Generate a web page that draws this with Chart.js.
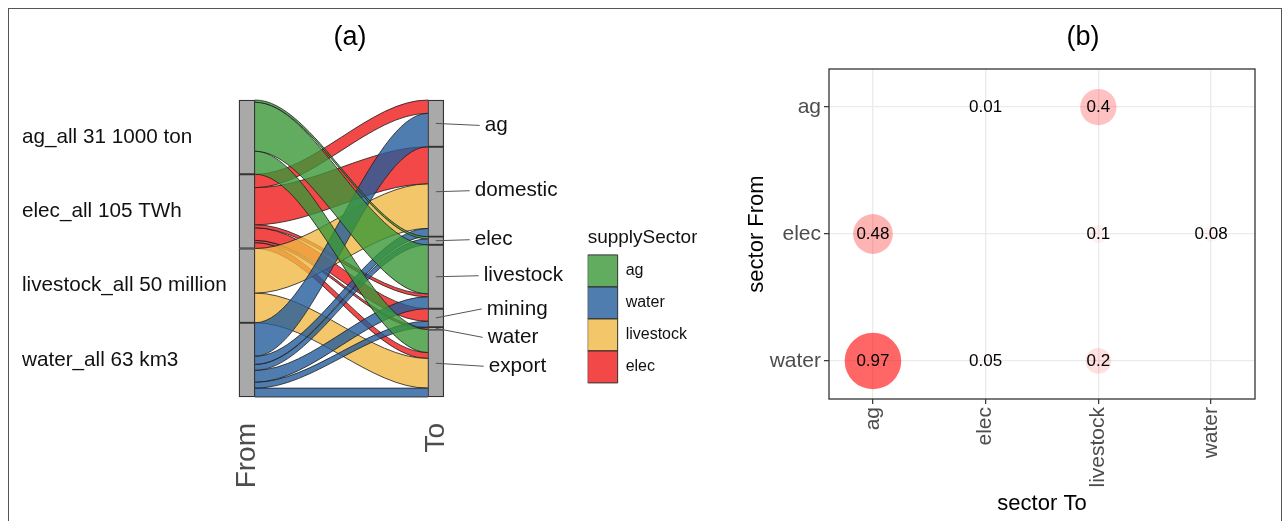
<!DOCTYPE html>
<html><head><meta charset="utf-8">
<script src="https://cdn.jsdelivr.net/npm/chart.js@4/dist/chart.umd.min.js"></script>
<style>
html,body{margin:0;padding:0;background:#fff;overflow:hidden;width:1287px;height:521px;}
#frame{position:absolute;left:8px;top:8px;width:1274px;height:600px;border:1.5px solid #555;box-sizing:border-box;}
#alluvial{position:absolute;left:0;top:0;}
#bubble{position:absolute;left:740px;top:0;}
</style></head><body>
<div id="frame"></div>
<canvas id="alluvial" width="740" height="521"></canvas>
<canvas id="bubble" width="547" height="521"></canvas>
<script>
// ---------- panel (a): alluvial data (shares of each supply sector) ----------
const fromSectors = ['ag', 'elec', 'livestock', 'water'];
const fromLabels = ['ag_all 31 1000 ton', 'elec_all 105 TWh', 'livestock_all 50 million', 'water_all 63 km3'];
const toSectors = ['ag', 'domestic', 'elec', 'livestock', 'mining', 'water', 'export'];
const axisNames = ['From', 'To'];
const flowFrom = ['ag', 'ag', 'ag',
  'elec', 'elec', 'elec', 'elec', 'elec', 'elec',
  'livestock', 'livestock',
  'water', 'water', 'water', 'water', 'water', 'water'];
const flowTo = ['elec', 'livestock', 'export',
  'ag', 'domestic', 'livestock', 'mining', 'water', 'export',
  'domestic', 'export',
  'ag', 'domestic', 'elec', 'livestock', 'mining', 'export'];
const flowValue = [0.03, 0.66, 0.31,
  0.18, 0.50, 0.04, 0.17, 0.03, 0.08,
  0.60, 0.40,
  0.45, 0.11, 0.08, 0.16, 0.08, 0.12];
const legendSectors = ['ag', 'water', 'livestock', 'elec'];

// ---------- panel (b): bubble data ----------
const bubbleCols = ['ag', 'elec', 'livestock', 'water'];
const bubbleRows = ['water', 'elec', 'ag'];
const bubbleFrom = ['ag', 'ag', 'elec', 'elec', 'elec', 'water', 'water', 'water'];
const bubbleTo = ['elec', 'livestock', 'ag', 'livestock', 'water', 'ag', 'elec', 'livestock'];
const bubbleValue = [0.01, 0.4, 0.48, 0.1, 0.08, 0.97, 0.05, 0.2];

// ---------- styles ----------
Chart.defaults.font.family = "'Liberation Sans', Arial, sans-serif";
const sectorColors = {
  ag: 'rgba(59,151,56,0.8)',
  water: 'rgba(36,92,155,0.8)',
  livestock: 'rgba(239,184,68,0.8)',
  elec: 'rgba(239,26,26,0.8)'
};
const flowBorder = 'rgba(30,30,30,0.8)';
const halfW = 1 / 24;      // half stratum width (axis units)
const eps = 0.002;
const toLabelOffsets = [[41, 2], [31, -1], [31, -1], [40, -1], [43, -9], [44, 9], [45, 3]];

// ---------- alluvial geometry from data ----------
const sum = a => a.reduce((s, v) => s + v, 0);
const idx = flowValue.map((_, i) => i);
const supplyTotal = fromSectors.map(s => sum(idx.filter(i => flowFrom[i] === s).map(i => flowValue[i])));
const demandTotal = toSectors.map(t => sum(idx.filter(i => flowTo[i] === t).map(i => flowValue[i])));
const grand = sum(flowValue);
const leftTop = {}, rightTop = {};
let cur = grand;
fromSectors.forEach((s, i) => { leftTop[s] = cur; cur -= supplyTotal[i]; });
cur = grand;
toSectors.forEach((t, i) => { rightTop[t] = cur; cur -= demandTotal[i]; });
const leftPos = {}, rightPos = {};
fromSectors.forEach(s => {
  let c = leftTop[s];
  idx.filter(i => flowFrom[i] === s)
    .sort((a, b) => toSectors.indexOf(flowTo[a]) - toSectors.indexOf(flowTo[b]))
    .forEach(i => { leftPos[i] = [c, c - flowValue[i]]; c -= flowValue[i]; });
});
toSectors.forEach(t => {
  let c = rightTop[t];
  idx.filter(i => flowTo[i] === t)
    .sort((a, b) => fromSectors.indexOf(flowFrom[a]) - fromSectors.indexOf(flowFrom[b]))
    .forEach(i => { rightPos[i] = [c, c - flowValue[i]]; c -= flowValue[i]; });
});

const x0 = 1 + halfW, x1 = 2 - halfW;
const edge = (yl, yr) => [{x: x0, y: yl}, {x: x0 + eps, y: yl}, {x: x1 - eps, y: yr}, {x: x1, y: yr}];
const flowDatasets = [];
legendSectors.forEach(s => {
  idx.filter(i => flowFrom[i] === s).forEach(i => {
    const [lt, lb] = leftPos[i];
    const [rt, rb] = rightPos[i];
    const common = {type: 'line', borderColor: flowBorder, borderWidth: 1, pointRadius: 0,
      cubicInterpolationMode: 'monotone', order: 1};
    flowDatasets.push(Object.assign({}, common, {data: edge(lb, rb), fill: false}));
    flowDatasets.push(Object.assign({}, common, {data: edge(lt, rt), fill: '-1', backgroundColor: sectorColors[s]}));
  });
});
const strataData = [];
fromSectors.forEach((s, i) => strataData.push({x: 1, y: [leftTop[s] - supplyTotal[i], leftTop[s]]}));
toSectors.forEach((t, i) => strataData.push({x: 2, y: [rightTop[t] - demandTotal[i], rightTop[t]]}));
const leftCenters = fromSectors.map((s, i) => leftTop[s] - supplyTotal[i] / 2);

// ---------- plugins ----------
const panelTag = {
  id: 'panelTag',
  afterDraw(chart, args, opts) {
    const ctx = chart.ctx;
    ctx.save();
    ctx.font = "27px 'Liberation Sans', Arial, sans-serif";
    ctx.fillStyle = '#000';
    ctx.textAlign = 'center';
    ctx.textBaseline = 'middle';
    ctx.fillText(opts.text, opts.x, opts.y);
    ctx.restore();
  }
};
const toLabels = {
  id: 'toLabels',
  afterDatasetsDraw(chart) {
    const ctx = chart.ctx, xs = chart.scales.x, ys = chart.scales.y;
    const xMid = xs.getPixelForValue(2), xEdge = xs.getPixelForValue(2 + halfW);
    ctx.save();
    ctx.font = "20.7px 'Liberation Sans', Arial, sans-serif";
    ctx.textAlign = 'left';
    ctx.textBaseline = 'middle';
    toSectors.forEach((t, i) => {
      const cy = ys.getPixelForValue(rightTop[t] - demandTotal[i] / 2);
      const lx = xEdge + toLabelOffsets[i][0], ly = cy + toLabelOffsets[i][1];
      ctx.strokeStyle = '#555';
      ctx.lineWidth = 1;
      ctx.beginPath();
      ctx.moveTo(xMid, cy);
      ctx.lineTo(lx - 5, ly);
      ctx.stroke();
      ctx.fillStyle = '#111';
      ctx.fillText(t, lx, ly);
    });
    ctx.restore();
  }
};
const panelBox = {
  id: 'panelBox',
  beforeDatasetsDraw(chart) {
    const {ctx, chartArea: a} = chart;
    ctx.save();
    ctx.strokeStyle = '#333';
    ctx.lineWidth = 1.3;
    ctx.strokeRect(a.left, a.top, a.right - a.left, a.bottom - a.top);
    ctx.restore();
  }
};
const bubbleLabels = {
  id: 'bubbleLabels',
  afterDatasetsDraw(chart) {
    const ctx = chart.ctx, meta = chart.getDatasetMeta(0);
    ctx.save();
    ctx.font = "17px 'Liberation Sans', Arial, sans-serif";
    ctx.fillStyle = '#000';
    ctx.textAlign = 'center';
    ctx.textBaseline = 'middle';
    meta.data.forEach((el, i) => ctx.fillText(String(bubbleValue[i]), el.x, el.y));
    ctx.restore();
  }
};

// ---------- chart (a) ----------
new Chart(document.getElementById('alluvial'), {
  type: 'line',
  data: {
    datasets: [{
      type: 'bar', data: strataData, backgroundColor: '#a9a9a9', borderColor: '#333',
      borderWidth: 1.3, borderSkipped: false, barThickness: 16, grouped: false, order: -1
    }].concat(flowDatasets)
  },
  options: {
    responsive: false, animation: false, events: [],
    layout: {padding: {left: 22, right: 43, top: 90, bottom: 0}},
    scales: {
      x: {
        type: 'linear', min: 0.91, max: 2.804, offset: false,
        grid: {display: false}, border: {display: false},
        afterBuildTicks: s => { s.ticks = axisNames.map((_, i) => ({value: i + 1})); },
        afterFit: s => { s.height = 106; },
        ticks: {callback: v => axisNames[Math.round(v) - 1], minRotation: 90, maxRotation: 90,
          autoSkip: false, padding: 0, font: {size: 28}, color: '#4d4d4d'}
      },
      y: {
        type: 'linear', min: -0.242, max: 4.135,
        grid: {display: false}, border: {display: false},
        afterBuildTicks: s => { s.ticks = leftCenters.map(v => ({value: v})); },
        afterFit: s => { s.width = 208; },
        ticks: {crossAlign: 'far', callback: (v, i) => fromLabels[i], font: {size: 20.7}, color: '#111', padding: 0}
      }
    },
    plugins: {
      legend: {
        position: 'right', align: 'center', onClick: null,
        title: {display: true, text: 'supplySector', font: {size: 19}, color: '#111',
          padding: {top: 0, bottom: 4}, position: 'start'},
        labels: {
          boxWidth: 30, boxHeight: 32, padding: 0, font: {size: 16}, color: '#222',
          generateLabels: () => legendSectors.map(s => ({
            text: s, fillStyle: sectorColors[s], strokeStyle: '#333', lineWidth: 1, hidden: false
          }))
        }
      },
      tooltip: {enabled: false},
      panelTag: {text: '(a)', x: 350, y: 38}
    }
  },
  plugins: [panelTag, toLabels]
});

// ---------- chart (b) ----------
const vMin = Math.min(...bubbleValue), vMax = Math.max(...bubbleValue);
const bubbleRadius = v => 28.7 * Math.sqrt(v);
const bubbleColor = v => 'rgba(255,0,0,' + (0.6 * (v - vMin) / (vMax - vMin)).toFixed(3) + ')';
new Chart(document.getElementById('bubble'), {
  type: 'bubble',
  data: {
    datasets: [{
      data: bubbleValue.map((v, i) => ({x: bubbleCols.indexOf(bubbleTo[i]), y: bubbleRows.indexOf(bubbleFrom[i]), r: bubbleRadius(v)})),
      backgroundColor: bubbleValue.map(bubbleColor),
      borderWidth: 0
    }]
  },
  options: {
    responsive: false, animation: false, events: [],
    layout: {padding: {left: 0, right: 32, top: 69, bottom: 0}},
    scales: {
      x: {
        type: 'linear', min: -0.39, max: 3.39,
        afterBuildTicks: s => { s.ticks = bubbleCols.map((_, i) => ({value: i})); },
        afterFit: s => { s.height = 122; },
        grid: {color: '#ebebeb', lineWidth: 1.3, tickColor: '#333', tickLength: 5, tickWidth: 1.2},
        border: {display: false},
        ticks: {callback: v => bubbleCols[Math.round(v)], minRotation: 90, maxRotation: 90, autoSkip: false,
          padding: 3, font: {size: 21}, color: '#4d4d4d'},
        title: {display: true, text: 'sector To', font: {size: 22}, color: '#000', padding: 4}
      },
      y: {
        type: 'linear', min: -0.3, max: 2.3,
        afterBuildTicks: s => { s.ticks = bubbleRows.map((_, i) => ({value: i})); },
        afterFit: s => { s.width = 89; },
        grid: {color: '#ebebeb', lineWidth: 1.3, tickColor: '#333', tickLength: 5, tickWidth: 1.2},
        border: {display: false},
        ticks: {callback: v => bubbleRows[Math.round(v)], padding: 3, font: {size: 21}, color: '#4d4d4d'},
        title: {display: true, text: 'sector From', font: {size: 22}, color: '#000', padding: 4}
      }
    },
    plugins: {
      legend: {display: false},
      tooltip: {enabled: false},
      panelTag: {text: '(b)', x: 343, y: 38}
    }
  },
  plugins: [panelTag, panelBox, bubbleLabels]
});
</script>
</body></html>
